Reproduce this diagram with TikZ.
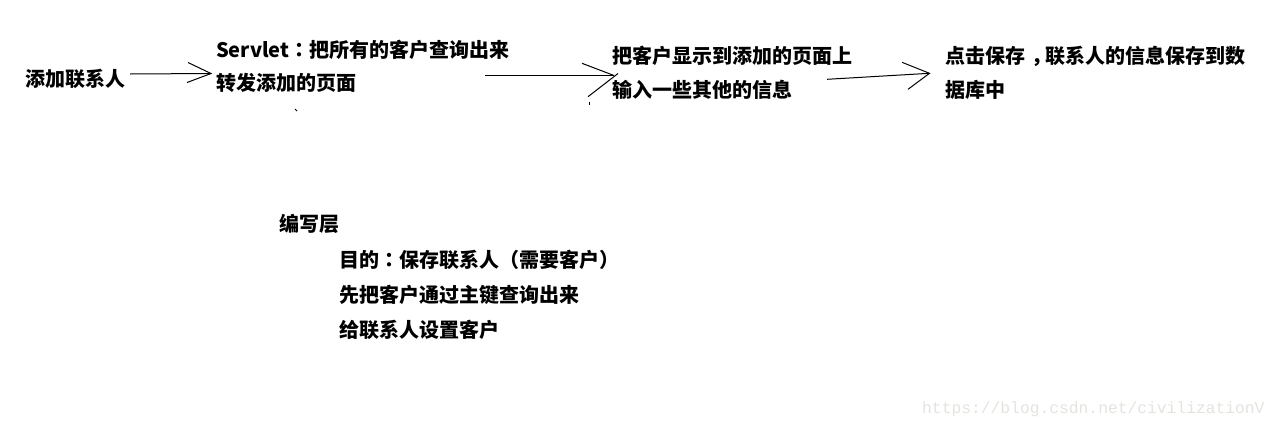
\documentclass[tikz,border=0pt]{standalone}
\usepackage{fontspec}
\newfontfamily\cjk{Noto Sans CJK SC}
\newfontfamily\cjkp{Noto Sans CJK TC}
\newfontfamily\wmfont{Liberation Mono}
\definecolor{wmgray}{RGB}{228,227,222}
\newcommand{\pcolon}{{\cjkp\bfseries ：}}
\newcommand{\pcomma}{{\hspace{0.3em}，\hspace{-0.3em}}}
\tikzset{
  txt/.style={anchor=base west, inner sep=0pt, outer sep=0pt, font=\cjk\bfseries\fontsize{20}{24}\selectfont, text=black},
  pen/.style={line width=1pt, draw=black, line cap=butt},
  wm/.style={anchor=base west, inner sep=0pt, font=\wmfont\fontsize{16.3}{18}\selectfont, text=wmgray}
}
\begin{document}
\begin{tikzpicture}[x=1pt,y=-1pt]
\useasboundingbox (0,0) rectangle (1285,429);
% texts
\node[txt] (b1) at (25.5,86) {添加联系人};
\node[txt] (b2a) at (216,57.6) {Servlet\pcolon 把所有的客户查询出来};
\node[txt] (b2b) at (216,90) {转发添加的页面};
\node[txt] (b3a) at (612.5,63.6) {把客户显示到添加的页面上};
\node[txt] (b3b) at (612.5,97.1) {输入一些其他的信息};
\node[txt] (b4a) at (945.5,63.6) {点击保存\pcomma 联系人的信息保存到数};
\node[txt] (b4b) at (945.5,97.1) {据库中};
\node[txt] (l0) at (279,231.6) {编写层};
\node[txt] (l1) at (339,267.1) {目的\pcolon 保存联系人（需要客户）};
\node[txt] (l2) at (339,302.6) {先把客户通过主键查询出来};
\node[txt] (l3) at (339,337.1) {给联系人设置客户};
\node[wm] (wm) at (922,413.3) {https://blog.csdn.net/civilizationV};
% arrow 1
\coordinate (a1s) at (130,74);
\coordinate (a1t) at (211,73.5);
\coordinate (a1u) at (188,62.5);
\coordinate (a1d) at (187,82.5);
\draw[pen] (a1s) -- (a1t);
\draw[pen] (a1u) -- (a1t) -- (a1d);
% arrow 2
\coordinate (a2s) at (485,75.5);
\coordinate (a2t) at (614,75.5);
\coordinate (a2u) at (582,63.3);
\coordinate (a2x) at (618,73.5);
\coordinate (a2d) at (588,96.7);
\draw[pen] (a2s) -- (a2t);
\draw[pen] (a2u) -- (a2t);
\draw[pen] (a2x) -- (a2d);
\coordinate (t2a) at (589,101.5);
\coordinate (t2b) at (589,104.5);
\draw[pen] (t2a) -- (t2b);
% stray mark
\coordinate (s1a) at (295,109);
\coordinate (s1b) at (297,111);
\draw[pen] (s1a) -- (s1b);
% arrow 3
\coordinate (a3s) at (827,79.3);
\coordinate (a3t) at (929.5,73.3);
\coordinate (a3u) at (902,62.3);
\coordinate (a3d) at (908,89.3);
\draw[pen] (a3s) -- (a3t);
\draw[pen] (a3u) -- (a3t) -- (a3d);
\end{tikzpicture}
\end{document}
